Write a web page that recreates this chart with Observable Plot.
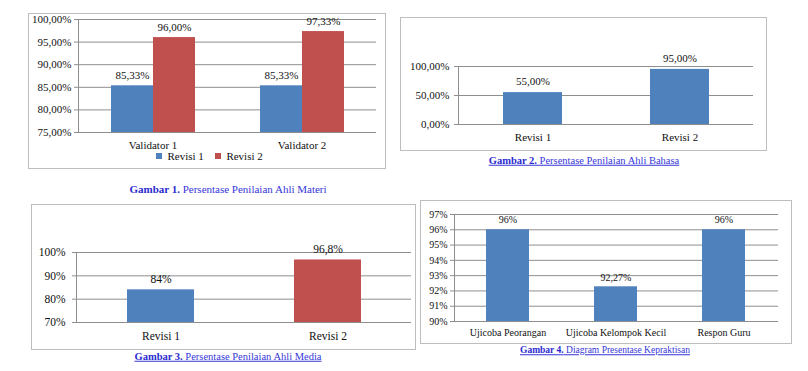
<!DOCTYPE html>
<html><head><meta charset="utf-8">
<script src="https://cdn.jsdelivr.net/npm/d3@7"></script>
<script src="https://cdn.jsdelivr.net/npm/@observablehq/plot@0.6"></script>
<style>
body{margin:0;background:#fff;}
#root{position:relative;width:808px;height:371px;overflow:hidden;font-family:"Liberation Serif",serif;background:#fff;}
.box{position:absolute;border:1px solid #bdbdbd;box-sizing:border-box;pointer-events:none;}
.plot{position:absolute;}
.plot svg{display:block;overflow:visible;}
.plot svg, .plot svg text, .leg, .leg *{font-family:"Liberation Serif",serif !important;}
.cap{position:absolute;transform:translate(-50%,-50%);white-space:nowrap;color:#3636d8;line-height:1;}
.cap b{color:#2a2ad0;}
.cap.u{text-decoration:underline;}
.leg{position:absolute;}
</style></head><body><div id="root"></div>
<script>
// ---------- data ----------
const materiCategories = ["Validator 1", "Validator 2"];
const materiSeries = ["Revisi 1", "Revisi 2"];
const materiRevisi1 = [85.33, 85.33];
const materiRevisi2 = [96.00, 97.33];
const materiTicks = [75, 80, 85, 90, 95, 100];

const bahasaCategories = ["Revisi 1", "Revisi 2"];
const bahasaValues = [55.00, 95.00];
const bahasaTicks = [0, 50, 100];

const mediaCategories = ["Revisi 1", "Revisi 2"];
const mediaValues = [84, 96.8];
const mediaTicks = [70, 80, 90, 100];

const praktisCategories = ["Ujicoba Peorangan", "Ujicoba Kelompok Kecil", "Respon Guru"];
const praktisValues = [96, 92.27, 96];
const praktisTicks = [90, 91, 92, 93, 94, 95, 96, 97];

const captionNumbers = ["Gambar 1.", "Gambar 2.", "Gambar 3.", "Gambar 4."];
const captionTexts = ["Persentase Penilaian Ahli Materi", "Persentase Penilaian Ahli Bahasa",
  "Persentase Penilaian Ahli Media", "Diagram Presentase Kepraktisan"];

// ---------- style ----------
const BLUE = "#4F81BD", RED = "#C0504D", GRID = "#8e8e8e";
const FONT = '"Liberation Serif", serif';
const loc = d3.formatLocale({decimal: ",", thousands: ".", grouping: [3], currency: ["", ""]});
const f2 = v => loc.format(".2f")(v) + "%";
const fTrim = v => loc.format("~r")(v) + "%";
const root = document.getElementById("root");

function place(el, left, top, cls) {
  const d = document.createElement("div");
  d.className = cls || "plot";
  d.style.left = left + "px"; d.style.top = top + "px";
  d.appendChild(el);
  root.appendChild(d);
  return d;
}
function box(left, top, w, h) {
  const d = document.createElement("div");
  d.className = "box";
  Object.assign(d.style, {left: left + "px", top: top + "px", width: w + "px", height: h + "px"});
  root.appendChild(d);
}
function caption(i, cx, cy, size, underline) {
  const d = document.createElement("div");
  d.className = "cap" + (underline ? " u" : "");
  d.style.left = cx + "px"; d.style.top = cy + "px"; d.style.fontSize = size + "px";
  d.innerHTML = `<b>${captionNumbers[i]}</b> ${captionTexts[i]}`;
  root.appendChild(d);
}

// ---------- panel 1: grouped bars ----------
const materi = materiCategories.flatMap((c, i) => [
  {cat: c, series: materiSeries[0], value: materiRevisi1[i]},
  {cat: c, series: materiSeries[1], value: materiRevisi2[i]}
]);
const p1 = Plot.plot({
  width: 357, height: 155,
  marginLeft: 50, marginRight: 9, marginTop: 6, marginBottom: 36,
  style: {fontFamily: FONT, fontSize: "11px", color: "#111", background: "transparent"},
  fx: {domain: materiCategories, padding: 0, label: null},
  x: {domain: materiSeries, paddingInner: 0, paddingOuter: 0.75, axis: null},
  y: {domain: [materiTicks[0], materiTicks[materiTicks.length - 1]], label: null},
  color: {domain: materiSeries, range: [BLUE, RED]},
  marks: [
    Plot.gridY(materiTicks, {stroke: GRID, strokeOpacity: 1}),
    Plot.barY(materi, {fx: "cat", x: "series", y1: materiTicks[0], y2: "value", fill: "series"}),
    Plot.text(materi, {fx: "cat", x: "series", y: "value", text: d => f2(d.value), dy: -10, fontSize: 11}),
    Plot.axisY(materiTicks, {tickSize: 4, tickPadding: 3, tickFormat: f2, stroke: GRID, label: null, fontSize: 11}),
    Plot.axisFx({anchor: "bottom", tickSize: 0, tickPadding: 9, label: null, fontSize: 11}),
    Plot.frame({anchor: "left", facetAnchor: "left", stroke: GRID})
  ]
});
place(p1, 28, 13);
box(28, 13, 358, 156);
const leg1 = Plot.legend({
  color: {domain: materiSeries, range: [BLUE, RED]},
  swatchSize: 6,
  style: {fontFamily: FONT, fontSize: "11px", color: "#111"}
});
place(leg1, 156, 139, "leg");
caption(0, 228, 189, 11, false);

// ---------- single-series helper ----------
function single(cfg) {
  const data = cfg.categories.map((c, i) => ({cat: c, value: cfg.values[i], color: cfg.colors[i]}));
  const y0 = cfg.ticks[0], y1 = cfg.ticks[cfg.ticks.length - 1];
  const p = Plot.plot({
    width: cfg.w, height: cfg.h,
    marginLeft: cfg.ml, marginRight: cfg.mr, marginTop: cfg.mt, marginBottom: cfg.mb,
    style: {fontFamily: FONT, fontSize: cfg.fs + "px", color: "#111", background: "transparent"},
    x: {domain: cfg.categories, paddingInner: 0.6, paddingOuter: 0.3, label: null},
    y: {domain: [y0, y1], label: null},
    marks: [
      Plot.gridY(cfg.ticks, {stroke: GRID, strokeOpacity: 1}),
      Plot.barY(data, {x: "cat", y1: y0, y2: "value", fill: "color"}),
      Plot.text(data, {x: "cat", y: "value", text: d => cfg.labelFmt(d.value), dy: cfg.dy, fontSize: cfg.fs}),
      Plot.axisY(cfg.ticks, {tickSize: 4, tickPadding: cfg.ytp, tickFormat: cfg.tickFmt, stroke: GRID, label: null, fontSize: cfg.fs}),
      Plot.axisX({tickSize: 0, tickPadding: cfg.xtp, label: null, fontSize: cfg.fs}),
      Plot.frame({anchor: "left", stroke: GRID})
    ]
  });
  place(p, cfg.left, cfg.top);
  box(cfg.left, cfg.top, cfg.w + 1, cfg.h + 1);
}

// ---------- panel 2 ----------
single({left: 400, top: 17, w: 366, h: 133, ml: 58, mr: 13, mt: 49, mb: 26, fs: 11,
  categories: bahasaCategories, values: bahasaValues, colors: [BLUE, BLUE],
  ticks: bahasaTicks, tickFmt: f2, labelFmt: f2, dy: -11, ytp: 5, xtp: 9});
caption(1, 584, 161, 10.5, true);

// ---------- panel 3 ----------
single({left: 31, top: 204, w: 384, h: 145, ml: 45, mr: 4, mt: 48, mb: 27, fs: 11.5,
  categories: mediaCategories, values: mediaValues, colors: [BLUE, RED],
  ticks: mediaTicks, tickFmt: v => v + "%", labelFmt: fTrim, dy: -11, ytp: 7, xtp: 9});
caption(2, 228, 357, 10.5, true);

// ---------- panel 4 ----------
single({left: 420, top: 200, w: 371, h: 143, ml: 34, mr: 13, mt: 14, mb: 22, fs: 10,
  categories: praktisCategories, values: praktisValues, colors: [BLUE, BLUE, BLUE],
  ticks: praktisTicks, tickFmt: v => v + "%", labelFmt: fTrim, dy: -9.5, ytp: 3, xtp: 7});
caption(3, 605, 351, 9.5, true);
</script></body></html>
